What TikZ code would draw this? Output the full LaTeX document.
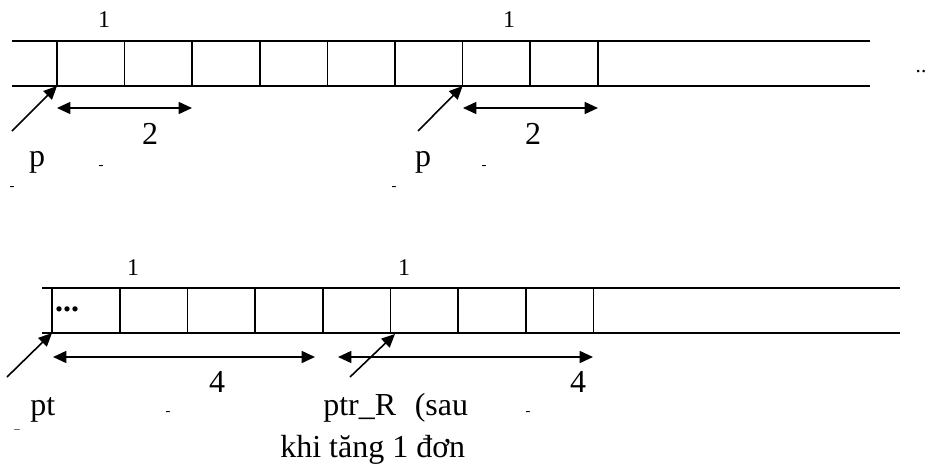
\documentclass[tikz,border=0pt]{standalone}
\usepackage{fontspec}
\setmainfont{Liberation Serif}
\usetikzlibrary{arrows.meta,positioning}

\begin{document}
\begin{tikzpicture}[x=0.75pt, y=-0.75pt,
  tape/.style={line width=1.2pt},
  ptr/.style={line width=1.2pt, -{Triangle[length=10pt, width=9pt]}},
  span/.style={line width=1.2pt, {Triangle[length=10pt, width=9pt]}-{Triangle[length=10pt, width=9pt]}},
  lbl/.style={font=\fontsize{24}{28}\selectfont, inner sep=0pt, anchor=base},
  idx/.style={font=\fontsize{18}{20}\selectfont, inner sep=0pt, anchor=base},
  bit/.style={font=\fontsize{11}{12}\selectfont, inner sep=0pt}]

\useasboundingbox (0,0) rectangle (927,464);

% Top tape
\draw[tape] (12,41) -- (870,41);
\draw[tape] (12,86) -- (870,86);
\foreach \i in {0,...,8}
{
  \draw[tape] (57+\i*67.6,41) -- (57+\i*67.6,86);
  \coordinate (ta\i) at (57+\i*67.6,86);
}
\node[idx] (ia1) at (104,27) {1};
\node[idx] (ia2) at (509,27) {1};
\node[font=\fontsize{16}{18}\selectfont, inner sep=0pt] (dotsa) at (921,72) {..};

% Top pointers and spans
\coordinate (pa1) at (12,131);
\coordinate (pa2) at (418,131);
\draw[ptr] (pa1) -- (ta0);
\draw[ptr] (pa2) -- (ta6);
\coordinate (sa1) at (57,108);
\coordinate (sa2) at (192,108);
\coordinate (sa3) at (463,108);
\coordinate (sa4) at (598,108);
\draw[span] (sa1) -- (sa2);
\draw[span] (sa3) -- (sa4);
\node[lbl] (da1) at (150,144) {2};
\node[lbl] (da2) at (533,144) {2};
\node[lbl] (na1) at (37,166) {p};
\node[lbl] (na2) at (423,166) {p};
\node[bit] (ma1) at (101,167) {-};
\node[bit] (ma2) at (484,167) {-};
\node[bit] (ma3) at (12,188) {-};
\node[bit] (ma4) at (394,188) {-};

% Bottom tape
\draw[tape] (42,288) -- (900,288);
\draw[tape] (42,333) -- (900,333);
\foreach \i in {0,...,8}
{
  \draw[tape] (52+\i*67.7,288) -- (52+\i*67.7,333);
  \coordinate (tb\i) at (52+\i*67.7,333);
}
\node[idx] (ib1) at (133,275) {1};
\node[idx] (ib2) at (404,275) {1};
\node[font=\fontsize{24}{26}\selectfont\bfseries, inner sep=0pt] (cellb) at (67,309) {...};

% Bottom pointers and spans
\coordinate (pb1) at (7,377);
\coordinate (pb2) at (350,377);
\coordinate (hb2) at (395,334);
\draw[ptr] (pb1) -- (tb0);
\draw[ptr] (pb2) -- (hb2);
\coordinate (sb1) at (53,357);
\coordinate (sb2) at (315,357);
\coordinate (sb3) at (338,357);
\coordinate (sb4) at (593,357);
\draw[span] (sb1) -- (sb2);
\draw[span] (sb3) -- (sb4);
\node[lbl] (db1) at (217,392) {4};
\node[lbl] (db2) at (578,392) {4};
\node[lbl, anchor=base west] (nb1) at (30,415) {pt};
\node[lbl, anchor=base west] (nb2) at (323,415) {ptr\_R\hspace{14pt}(sau};
\node[lbl, anchor=base west] (nb3) at (280,457) {khi tăng 1 đơn};
\node[bit] (mb1) at (168,413) {-};
\node[bit] (mb2) at (528,413) {-};
\node[bit] (mb3) at (17,436) {‾};
\end{tikzpicture}
\end{document}
